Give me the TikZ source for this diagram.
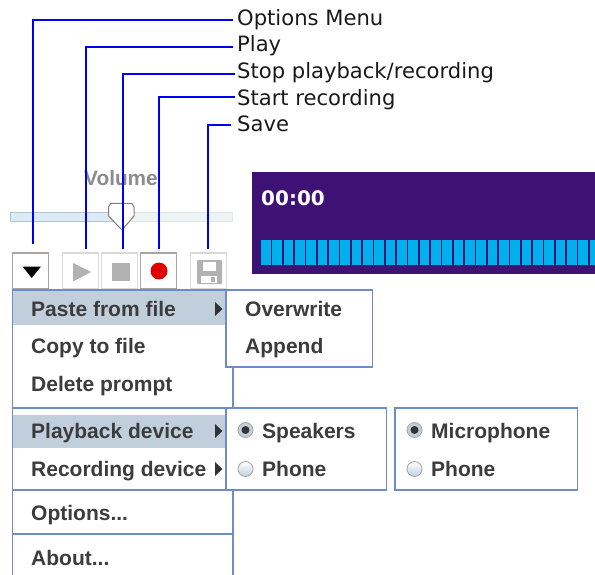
\documentclass[tikz,border=0pt]{standalone}
\usepackage{fontspec}
\setmainfont{DejaVu Sans}
\newfontfamily\menufont[BoldFont={Liberation Sans Bold}]{Liberation Sans}
\definecolor{menublue}{HTML}{6D8CC8}
\definecolor{hilite}{HTML}{C1CFDD}
\definecolor{leader}{HTML}{0000F0}
\definecolor{menutext}{HTML}{3C3C3C}
\definecolor{panel}{HTML}{3E1175}
\definecolor{seg}{HTML}{00B0EC}
\definecolor{trackl}{HTML}{DCEBF8}
\definecolor{trackr}{HTML}{EEF3F6}
\tikzset{
  callout/.style={anchor=west,inner sep=0pt,text height=16pt,text depth=6pt,font=\fontsize{21.1}{23}\selectfont,text=black!90},
  leaderline/.style={draw=leader,line width=1.9pt},
  item/.style={anchor=west,inner sep=0pt,text height=15pt,text depth=5pt,font=\menufont\bfseries\fontsize{21}{23}\selectfont,text=menutext},
  btn/.style={draw=#1,fill=white,line width=1.2pt,minimum width=36pt,minimum height=36pt,inner sep=0pt},
  menuline/.style={draw=menublue,line width=1.4pt},
  box/.style={draw=menublue,fill=white,line width=1.4pt,minimum width=0pt,inner sep=0pt},
  submark/.style={fill=black!80,draw=none},
  radioon/.style={circle,draw=black!35,fill=hilite,line width=.8pt,minimum size=15pt,inner sep=0pt},
  radiooff/.style={circle,draw=black!35,top color=white,bottom color=hilite,line width=.8pt,minimum size=15pt,inner sep=0pt},
}
\begin{document}
\begin{tikzpicture}[x=1pt,y=-1pt]
\useasboundingbox (0,0) rectangle (595,575);
% display
\fill[panel] (252,172) rectangle (595,274);
\node[anchor=west,inner sep=0pt,text=white,font=\bfseries\fontsize{20}{22}\selectfont] (time) at (261,198) {00:00};
\begin{scope}
\clip (252,172) rectangle (595,274);
\foreach \i in {0,...,29} \fill[seg] ({261+11.33*\i},240) rectangle ({261+11.33*\i+9.8},265);
\end{scope}
% volume
\node[inner sep=0pt,text=black!45,font=\menufont\bfseries\fontsize{20.8}{22}\selectfont] (vol) at (121,178.5) {Volume};
\fill[trackl,draw=trackl!80!black!90] (10.5,212.5) rectangle (122,221);
\fill[trackr,draw=black!10] (122,212.5) rectangle (232,221);
\draw[fill=white,draw=black!50,line width=1pt] (108.5,207) -- (110.5,203.5) -- (132,203.5) -- (134,207) -- (134,216) -- (122,230) -- (108.5,216) -- cycle;
% buttons
\node[btn=black!35] (bopt) at (30.5,271) {};
\node[btn=black!15] (bplay) at (80.5,271) {};
\node[btn=black!15] (bstop) at (119.5,271) {};
\node[btn=black!35] (brec) at (158.5,271) {};
\node[btn=black!15] (bsave) at (208.5,271) {};
\fill[black] (22.5,266.5) -- (41,266.5) -- (31.7,278) -- cycle;
\fill[black!30] (73,263) -- (91,272) -- (73,281.5) -- cycle;
\fill[black!30] (111.5,263) rectangle (129.5,281);
\fill[red!88!black] (159,271) circle (8.5);
\fill[black!30,rounded corners=1pt] (197,260) rectangle (222,284);
\fill[white] (203,261.5) rectangle (216,271);
\fill[white] (201,276) rectangle (217,283);
\fill[black!30] (211,277) rectangle (215,282);
% leaders
\coordinate (eopt) at (33,244);
\coordinate (eplay) at (86,249);
\coordinate (estop) at (123,249);
\coordinate (erec) at (159,249);
\coordinate (esave) at (208,249);
\node[callout] (lopt) at (237,21) {Options Menu};
\node[callout] (lplay) at (237,47) {Play};
\node[callout] (lstop) at (237,74) {Stop playback/recording};
\node[callout] (lrec) at (237,101) {Start recording};
\node[callout] (lsave) at (237,127) {Save};
\draw[leaderline] ([xshift=-4pt,yshift=1pt]lopt.west) -| (eopt);
\draw[leaderline] ([xshift=-4pt]lplay.west) -| (eplay);
\draw[leaderline] ([xshift=-2pt]lstop.west) -| (estop);
\draw[leaderline] ([xshift=-2pt,yshift=4pt]lrec.west) -| (erec);
\draw[leaderline] ([xshift=-6pt,yshift=2pt]lsave.west) -| (esave);
% main menu
\fill[hilite] (13,291) rectangle (226,325);
\fill[hilite] (13,415) rectangle (226,448);
\draw[menuline] (12.5,290) -- (12.5,575);
\draw[menuline] (233,367) -- (233,408);
\draw[menuline] (233,490) -- (233,575);
\draw[draw=menublue,line width=2pt] (12,290) -- (234,290);
\draw[menuline] (12.5,408) -- (233,408);
\draw[menuline] (12.5,490) -- (233,490);
\draw[menuline] (12.5,534) -- (233,534);
% submenus
\node[box,minimum width=146.5pt,minimum height=77pt] (sub1) at (299.25,328.5) {};
\node[box,minimum width=160.5pt,minimum height=82pt] (sub2) at (306.25,449) {};
\node[box,minimum width=182.5pt,minimum height=82pt] (sub3) at (486.25,449) {};
% items
\node[item] (paste) at (31,311) {Paste from file};
\node[item] (copy) at (31,348) {Copy to file};
\node[item] (del) at (31,386) {Delete prompt};
\node[item] (pb) at (31,433) {Playback device};
\node[item] (rd) at (31,471) {Recording device};
\node[item] (optsi) at (31,515) {Options...};
\node[item] (about) at (31,560) {About...};
\node[item] (over) at (245,311) {Overwrite};
\node[item] (app) at (245,348) {Append};
\node[item] (spk) at (262,433) {Speakers};
\node[item] (ph1) at (262,471) {Phone};
\node[item] (mic) at (431,433) {Microphone};
\node[item] (ph2) at (431,471) {Phone};
% submenu arrows
\foreach \y in {309,431,469} \fill[submark] (215,\y-7) -- (222.5,\y) -- (215,\y+7) -- cycle;
% radios
\node[radioon] (r1) at (245.5,430) {};
\node[radiooff] (r2) at (245.5,469) {};
\node[radioon] (r3) at (414.5,430) {};
\node[radiooff] (r4) at (414.5,469) {};
\fill[black!80] (r1) circle (4);
\fill[black!80] (r3) circle (4);
\end{tikzpicture}
\end{document}
